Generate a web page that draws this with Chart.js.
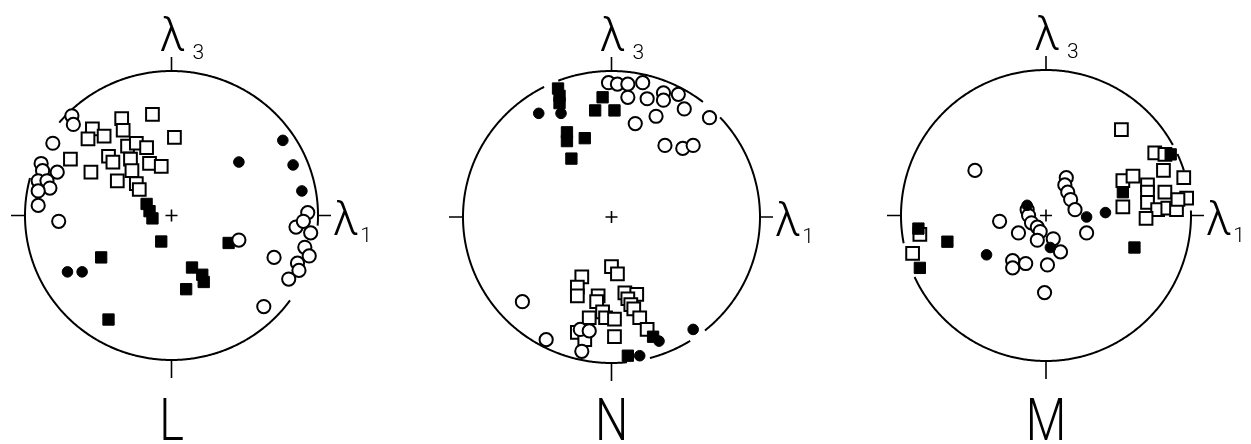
<!DOCTYPE html>
<html><head><meta charset="utf-8">
<script src="https://cdn.jsdelivr.net/npm/chart.js@4.4.1/dist/chart.umd.min.js"></script>
<style>
html,body{margin:0;padding:0;background:#fff;overflow:hidden}
#wrap{position:relative;width:1251px;height:444px;background:#fff}
canvas{position:absolute;top:0}
</style></head>
<body><div id="wrap">
<canvas id="cL" width="417" height="444" style="left:0px"></canvas>
<canvas id="cN" width="417" height="444" style="left:417px"></canvas>
<canvas id="cM" width="417" height="444" style="left:834px"></canvas>
</div>
<script>
// Stereonet coordinates: centre = 0, primitive circle radius = 100 (x: towards λ1, y: towards λ3)
const panelNames = ['L', 'N', 'M'];
const axisTop = 'λ', axisTopSub = '3', axisRight = 'λ', axisRightSub = '1';

const L_openSquares = [[-13,70],[2,54],[-34,67],[-33,59],[-54,60],[-57,53],[-46,55],[-30,48],[-24,50],[-17,47],[-43,41],[-40,37],[-28,39],[-27,31],[-15,36],[-7,34],[-69,39],[-55,30],[-37,24],[-24,22],[-22,18]];
const L_filledSquares = [[-17,8],[-15,3],[-13,-2],[-7,-18],[-48,-29],[39,-19],[14,-36],[21,-41],[22,-46],[10,-51],[-43,-72]];
const L_openCircles = [[-68,69],[-67,63],[-81,50],[-89,36],[-88,31],[-78,30],[-91,24],[-85,24],[-83,19],[-91,17],[-91,7],[-77,-4],[46,-17],[93,2],[85,-8],[90,-4],[95,-12],[91,-22],[94,-28],[70,-29],[86,-33],[87,-38],[80,-44],[63,-63]];
const L_filledCircles = [[76,52],[46,37],[83,35],[89,17],[-71,-39],[-61,-39]];

const N_openSquares = [[0,-34],[4,-39],[-20,-41],[-23,-48],[-23,-54],[-9,-54],[-10,-58],[9,-52],[17,-53],[11,-56],[13,-60],[15,-63],[-6,-65],[-15,-69],[-4,-69],[2,-70],[19,-69],[24,-77],[2,-82],[-23,-79],[-18,-84]];
const N_filledSquares = [[-36,88],[-35,83],[-35,78],[-6,82],[-11,73],[2,73],[-30,58],[-30,52],[-18,54],[-27,40],[28,-82],[11,-95]];
const N_openCircles = [[-2,92],[4,91],[11,91],[21,92],[11,82],[24,81],[35,85],[35,80],[45,84],[49,74],[30,69],[16,64],[66,68],[36,49],[48,47],[55,49],[-60,-58],[-44,-84],[-20,-92],[-21,-77],[-15,-78]];
const N_filledCircles = [[-49,71],[-34,71],[32,-85],[19,-95],[55,-77]];

const M_openSquares = [[52,59],[75,43],[82,42],[81,31],[95,26],[53,24],[60,27],[70,21],[70,16],[82,16],[97,12],[53,6],[70,9],[77,4],[84,5],[90,4],[91,11],[69,-2],[-87,-13],[-92,-26]];
const M_filledSquares = [[86,42],[53,16],[-88,-9],[-68,-18],[-87,-36],[61,-22]];
const M_openCircles = [[-49,31],[14,26],[13,21],[15,16],[17,11],[20,4],[28,-12],[-13,4],[-12,0],[-10,-5],[-6,-8],[-4,-11],[-6,-17],[-32,-4],[-19,-12],[5,-16],[10,-25],[-23,-31],[-23,-36],[-14,-33],[1,-34],[-1,-53]];
const M_filledCircles = [[28,-1],[41,2],[3,-22],[-41,-27],[-13,7]];

const panelData = {
  L: {oc: L_openCircles, os: L_openSquares, fc: L_filledCircles, fs: L_filledSquares},
  N: {oc: N_openCircles, os: N_openSquares, fc: N_filledCircles, fs: N_filledSquares},
  M: {oc: M_openCircles, os: M_openSquares, fc: M_filledCircles, fs: M_filledSquares}
};

// layout (style only): padding so the primitive circle sits where it does in the figure
const panelLayout = {
  L: {padding: {left: 25, right: 99, top: 71, bottom: 84}, gaps: [[-36,-4],[140,165]]},
  N: {padding: {left: 46, right: 74, top: 71, bottom: 81}, gaps: [[43,52],[111,117],[-58,-51],[-84,-75]]},
  M: {padding: {left: 67, right: 60, top: 70, bottom: 83}, gaps: [[2,18],[25,29],[-169,-155]]}
};

const FONT = 'Roboto, "DejaVu Sans", sans-serif';

const stereoPlugin = {
  id: 'stereo',
  beforeDatasetsDraw(chart, args, o) {
    const {ctx, scales: {x, y}} = chart;
    const cx = x.getPixelForValue(0), cy = y.getPixelForValue(0);
    const rx = x.getPixelForValue(100) - cx, ry = cy - y.getPixelForValue(100);
    const gaps = o.gaps || [];
    const inGap = a => gaps.some(g => a > g[0] && a < g[1]);
    ctx.save();
    ctx.strokeStyle = '#000';
    ctx.lineWidth = 2;
    ctx.lineCap = 'butt';
    let drawing = false;
    ctx.beginPath();
    for (let a = -180; a <= 180; a += 0.5) {
      const r = a * Math.PI / 180;
      const px = cx + rx * Math.cos(r), py = cy - ry * Math.sin(r);
      if (inGap(a)) { drawing = false; continue; }
      if (!drawing) { ctx.moveTo(px, py); drawing = true; } else ctx.lineTo(px, py);
    }
    ctx.stroke();
    // axis ticks
    ctx.lineWidth = 1.6;
    ctx.beginPath();
    ctx.moveTo(cx, cy - ry); ctx.lineTo(cx, cy - ry - 14);
    ctx.moveTo(cx, cy + ry); ctx.lineTo(cx, cy + ry + 18);
    ctx.moveTo(cx - rx, cy); ctx.lineTo(cx - rx - 14, cy);
    ctx.moveTo(cx + rx, cy); ctx.lineTo(cx + rx + 13, cy);
    // centre cross
    ctx.moveTo(cx - 6, cy); ctx.lineTo(cx + 6, cy);
    ctx.moveTo(cx, cy - 6); ctx.lineTo(cx, cy + 6);
    ctx.stroke();
    ctx.restore();
  },
  afterDraw(chart, args, o) {
    const {ctx, scales: {x, y}} = chart;
    const cx = x.getPixelForValue(0), cy = y.getPixelForValue(0);
    const rx = x.getPixelForValue(100) - cx, ry = cy - y.getPixelForValue(100);
    ctx.save();
    ctx.fillStyle = '#000';
    ctx.textBaseline = 'alphabetic';
    // λ3
    ctx.font = '300 46px ' + FONT;
    ctx.textAlign = 'center';
    ctx.fillText(axisTop, cx + 1, cy - ry - 20);
    ctx.font = '300 21px ' + FONT;
    ctx.textAlign = 'left';
    ctx.fillText(axisTopSub, cx + 21, cy - ry - 12);
    // λ1
    ctx.font = '300 46px ' + FONT;
    const lx = cx + rx + 15;
    ctx.fillText(axisRight, lx, cy + 19);
    const w = ctx.measureText(axisRight).width;
    ctx.font = '300 21px ' + FONT;
    ctx.fillText(axisRightSub, lx + w + 2, cy + 26);
    // panel letter
    ctx.font = '300 60px ' + FONT;
    ctx.textAlign = 'center';
    ctx.translate(cx, 440);
    ctx.scale(0.78, 1);
    ctx.fillText(o.name, 0, 0);
    ctx.restore();
  }
};

const toXY = arr => arr.map(p => ({x: p[0], y: p[1]}));

function makeChart(name) {
  const d = panelData[name], lay = panelLayout[name];
  const common = {pointBorderColor: '#000', showLine: false, clip: false};
  new Chart(document.getElementById('c' + name), {
    type: 'scatter',
    data: {
      datasets: [
        Object.assign({label: 'filled circles', data: toXY(d.fc), pointStyle: 'circle', pointRadius: 5.3, pointBackgroundColor: '#000', pointBorderWidth: 1}, common),
        Object.assign({label: 'open circles', data: toXY(d.oc), pointStyle: 'circle', pointRadius: 6.6, pointBackgroundColor: '#fff', pointBorderWidth: 2}, common),
        Object.assign({label: 'filled squares', data: toXY(d.fs), pointStyle: 'rect', pointRadius: 8, pointBackgroundColor: '#000', pointBorderWidth: 1}, common),
        Object.assign({label: 'open squares', data: toXY(d.os), pointStyle: 'rect', pointRadius: 9, pointBackgroundColor: '#fff', pointBorderWidth: 2}, common)
      ]
    },
    options: {
      responsive: false,
      animation: false,
      events: [],
      layout: {padding: lay.padding},
      scales: {
        x: {type: 'linear', min: -100, max: 100, display: false},
        y: {type: 'linear', min: -100, max: 100, display: false}
      },
      plugins: {
        legend: {display: false},
        tooltip: {enabled: false},
        stereo: {gaps: lay.gaps, name: name}
      }
    },
    plugins: [stereoPlugin]
  });
}
panelNames.forEach(makeChart);
</script>
</body></html>
